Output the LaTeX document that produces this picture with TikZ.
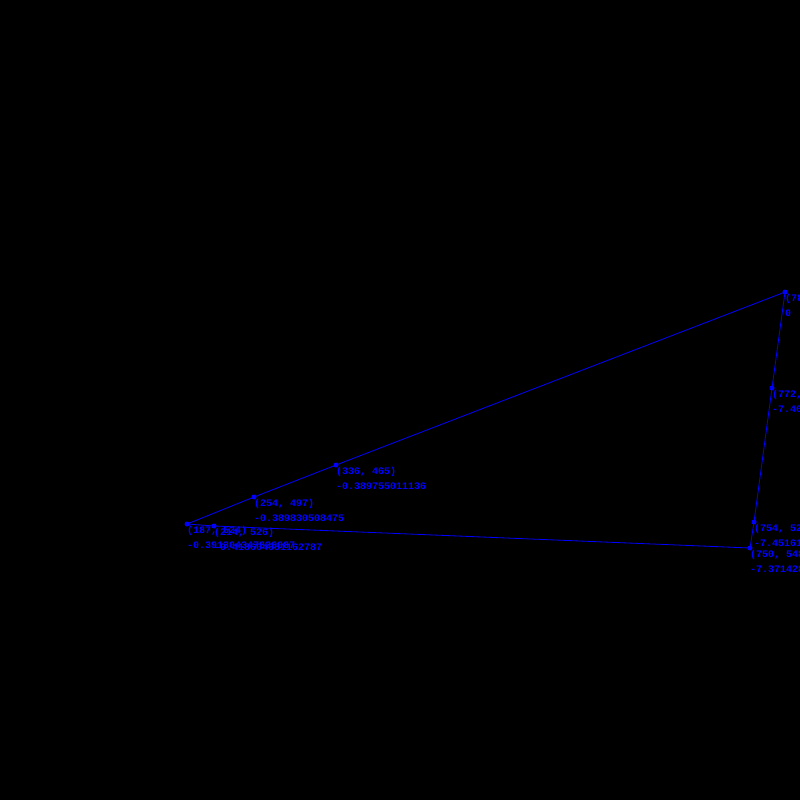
\documentclass[tikz,border=0pt]{standalone}
\usepackage{fontspec}
\setmonofont{Liberation Mono}
\definecolor{pblue}{RGB}{0,0,255}
\tikzset{
  pt/.style={circle,fill=pblue,inner sep=0pt,minimum size=5pt},
  lbl/.style={anchor=base west,inner sep=0pt,text=pblue,font=\ttfamily\bfseries\fontsize{10}{10}\selectfont},
  edge/.style={draw=pblue,line width=0.8pt}
}
\begin{document}
\begin{tikzpicture}[x=1pt,y=-1pt]
\fill[black] (0,0) rectangle (800,800);
\useasboundingbox (0,0) rectangle (800,800);
\clip (0,0) rectangle (800,800);
\node[pt] (a) at (785,292) {};
\node[pt] (b) at (336,465) {};
\node[pt] (c) at (254,497) {};
\node[pt] (d) at (187,524) {};
\node[pt] (e) at (214,526) {};
\node[pt] (f) at (750,548) {};
\node[pt] (g) at (754,522) {};
\node[pt] (h) at (772,388) {};
\draw[edge] (a.center) -- (b.center) -- (c.center) -- (d.center) -- (e.center) -- (f.center) -- (g.center) -- (h.center) -- (a.center);
\node[lbl] (la1) at (785,301) {(785, 292)};
\node[lbl] (la2) at (785,316) {0};
\node[lbl] (lb1) at (336,474) {(336, 465)};
\node[lbl] (lb2) at (336,489) {-0.389755011136};
\node[lbl] (lc1) at (254,506) {(254, 497)};
\node[lbl] (lc2) at (254,521) {-0.389830508475};
\node[lbl] (ld1) at (187,533) {(187, 524)};
\node[lbl] (ld2) at (187,548) {-0.391304347826087};
\node[lbl] (le1) at (214,535) {(214, 526)};
\node[lbl] (le2) at (214,550) {-0.418604651162787};
\node[lbl] (lf1) at (750,557) {(750, 548)};
\node[lbl] (lf2) at (750,572) {-7.37142857142857};
\node[lbl] (lg1) at (754,531) {(754, 522)};
\node[lbl] (lg2) at (754,546) {-7.45161290322581};
\node[lbl] (lh1) at (772,397) {(772, 388)};
\node[lbl] (lh2) at (772,412) {-7.46153846153846};
\end{tikzpicture}
\end{document}
